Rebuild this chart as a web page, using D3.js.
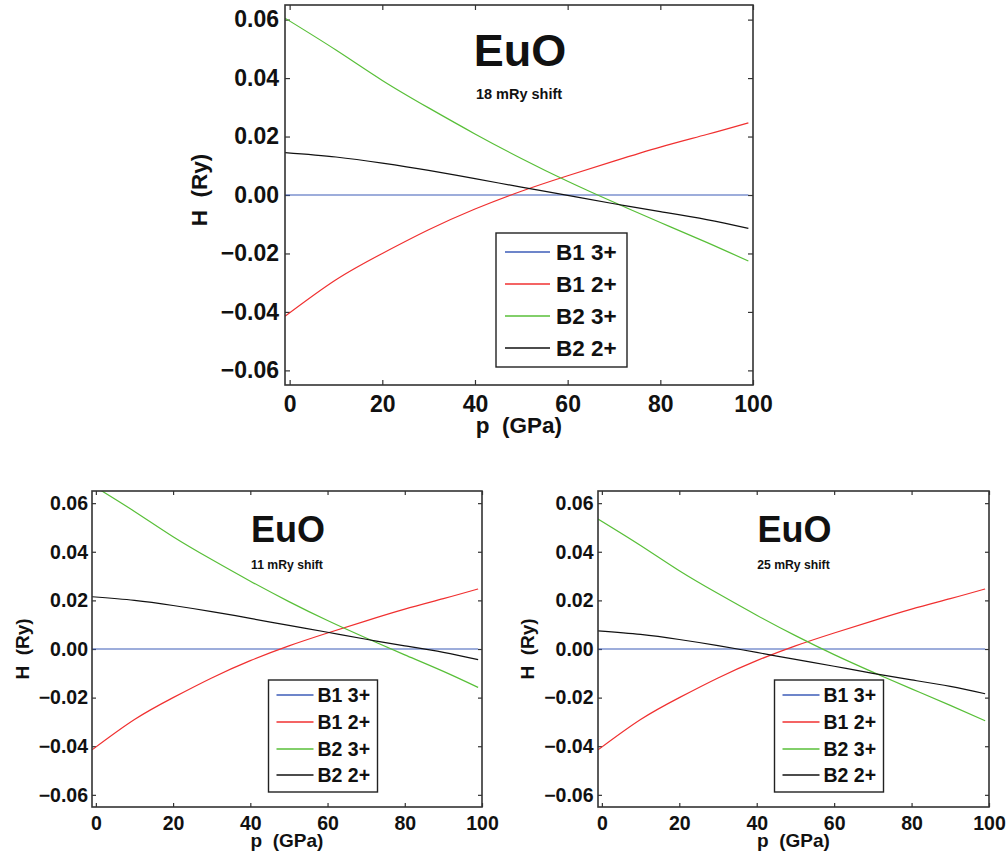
<!DOCTYPE html>
<html>
<head>
<meta charset="utf-8">
<script src="https://cdn.jsdelivr.net/npm/d3@7"></script>
<style>
  body { margin: 0; background: #fff; }
  text { font-family: "Liberation Sans", Arial, Helvetica, sans-serif; font-weight: bold; fill: #111; }
</style>
</head>
<body>
<script>
// pressure grid (GPa) and enthalpy differences (Ry)
const pressure = [-1, 10, 20, 30, 40, 50, 60, 70, 80, 90, 99];
const b1_3plus = [0, 0, 0, 0, 0, 0, 0, 0, 0, 0, 0];
const b1_2plus = [-0.0415, -0.029, -0.020, -0.0119, -0.0048, 0.0013, 0.0066, 0.0116, 0.0164, 0.0207, 0.0247];

const b2_3plus_18 = [0.0605, 0.0496, 0.0392, 0.0298, 0.0209, 0.0125, 0.0047, -0.0025, -0.0094, -0.0162, -0.0226];
const b2_2plus_18 = [0.0145, 0.0130, 0.0109, 0.0084, 0.0056, 0.0027, -0.0001, -0.0030, -0.0057, -0.0084, -0.0114];

const b2_3plus_11 = [0.0675, 0.0566, 0.0462, 0.0368, 0.0279, 0.0195, 0.0117, 0.0045, -0.0024, -0.0092, -0.0158];
const b2_2plus_11 = [0.0215, 0.0200, 0.0179, 0.0154, 0.0126, 0.0097, 0.0069, 0.0040, 0.0013, -0.0014, -0.0044];

const b2_3plus_25 = [0.0535, 0.0426, 0.0322, 0.0228, 0.0139, 0.0055, -0.0023, -0.0095, -0.0164, -0.0232, -0.0295];
const b2_2plus_25 = [0.0075, 0.0060, 0.0039, 0.0014, -0.0014, -0.0043, -0.0071, -0.0100, -0.0127, -0.0154, -0.0184];

const seriesNames = ["B1 3+", "B1 2+", "B2 3+", "B2 2+"];
const seriesColors = ["#3d5db8", "#f03030", "#58bf38", "#111111"];
const xTicks = [0, 20, 40, 60, 80, 100];
const yTicks = [-0.06, -0.04, -0.02, 0, 0.02, 0.04, 0.06];

const svg = d3.select("body").append("svg")
  .attr("width", 1006)
  .attr("height", 856);

const fmtY = d3.format(".2f");

function drawPanel(p) {
  const x = d3.scaleLinear().domain([-1, 100]).range([p.left, p.right]);
  const y = d3.scaleLinear().domain([-0.065, 0.065]).range([p.bottom, p.top]);
  const g = svg.append("g");

  g.append("clipPath").attr("id", p.id)
    .append("rect")
    .attr("x", p.left).attr("y", p.top)
    .attr("width", p.right - p.left).attr("height", p.bottom - p.top);

  // axes, ticks pointing inward on all four sides
  const bottom = g.append("g").attr("transform", `translate(0,${p.bottom})`)
    .call(d3.axisBottom(x).tickValues(xTicks).tickSizeInner(-p.tick).tickSizeOuter(0).tickPadding(p.xPad));
  const top = g.append("g").attr("transform", `translate(0,${p.top})`)
    .call(d3.axisTop(x).tickValues(xTicks).tickSizeInner(-p.tick).tickSizeOuter(0).tickFormat(""));
  const left = g.append("g").attr("transform", `translate(${p.left},0)`)
    .call(d3.axisLeft(y).tickValues(yTicks).tickSizeInner(-p.tick).tickSizeOuter(0).tickPadding(p.yPad).tickFormat(fmtY));
  const right = g.append("g").attr("transform", `translate(${p.right},0)`)
    .call(d3.axisRight(y).tickValues(yTicks).tickSizeInner(-p.tick).tickSizeOuter(0).tickFormat(""));

  [bottom, top, left, right].forEach(a => {
    a.select(".domain").remove();
    a.selectAll(".tick line").attr("stroke", "#333").attr("stroke-width", 1.2);
    a.selectAll("text").attr("font-size", p.tickFont).attr("fill", "#111")
      .attr("font-family", null);
  });

  const series = [b1_3plus, b1_2plus, p.b2_3, p.b2_2];
  const line = d3.line()
    .x((d, i) => x(pressure[i]))
    .y(d => y(d))
    .curve(d3.curveNatural);

  const lines = g.append("g").attr("clip-path", `url(#${p.id})`);
  series.forEach((s, k) => {
    lines.append("path")
      .datum(s)
      .attr("d", line)
      .attr("fill", "none")
      .attr("stroke", seriesColors[k])
      .attr("stroke-width", 1.2);
  });

  g.append("rect")
    .attr("x", p.left).attr("y", p.top)
    .attr("width", p.right - p.left).attr("height", p.bottom - p.top)
    .attr("fill", "none").attr("stroke", "#333").attr("stroke-width", 1.6);

  const cx = (p.left + p.right) / 2;
  g.append("text").attr("x", cx + p.titleDx).attr("y", p.titleY)
    .attr("text-anchor", "middle").attr("font-size", p.titleFont).text("EuO");
  g.append("text").attr("x", cx + p.titleDx - 1).attr("y", p.subY)
    .attr("text-anchor", "middle").attr("font-size", p.subFont).text(p.shift);

  g.append("text").attr("x", cx).attr("y", p.xLabelY)
    .attr("text-anchor", "middle").attr("font-size", p.labelFont)
    .style("white-space", "pre").text("p  (GPa)");
  g.append("text")
    .attr("transform", `translate(${p.yLabelX},${p.yLabelY}) rotate(-90)`)
    .attr("text-anchor", "middle").attr("font-size", p.labelFont)
    .style("white-space", "pre").text("H  (Ry)");

  // legend
  const L = p.legend;
  g.append("rect")
    .attr("x", L.x).attr("y", L.y).attr("width", L.w).attr("height", L.h)
    .attr("fill", "#fff").attr("stroke", "#222").attr("stroke-width", 1.4);
  seriesNames.forEach((name, k) => {
    const ry = Math.round(L.row0 + k * L.rowStep);
    g.append("line")
      .attr("x1", L.x + L.line0).attr("x2", L.x + L.line1)
      .attr("y1", ry).attr("y2", ry)
      .attr("stroke", seriesColors[k]).attr("stroke-width", 1.6);
    g.append("text")
      .attr("x", L.x + L.text0).attr("y", ry).attr("dy", "0.36em")
      .attr("font-size", L.font).text(name);
  });
}

drawPanel({
  id: "clipTop", left: 285, right: 753, top: 5, bottom: 385,
  tick: 5, xPad: 11, yPad: 6, tickFont: 23,
  titleFont: 45, titleY: 66, titleDx: 1, subFont: 14.5, subY: 99, shift: "18 mRy shift",
  labelFont: 22.5, xLabelY: 433, yLabelX: 207, yLabelY: 190,
  b2_3: b2_3plus_18, b2_2: b2_2plus_18,
  legend: { x: 496, y: 233, w: 131, h: 134, line0: 9, line1: 54, text0: 60, row0: 251.5, rowStep: 32, font: 22.5 }
});

drawPanel({
  id: "clipBL", left: 92, right: 482, top: 491, bottom: 807,
  tick: 4, xPad: 9, yPad: 4, tickFont: 19.5,
  titleFont: 36, titleY: 541.5, titleDx: 1, subFont: 12.2, subY: 569, shift: "11 mRy shift",
  labelFont: 19, xLabelY: 847, yLabelX: 28.5, yLabelY: 649,
  b2_3: b2_3plus_11, b2_2: b2_2plus_11,
  legend: { x: 268.5, y: 680, w: 109, h: 112, line0: 8, line1: 45, text0: 49, row0: 695, rowStep: 26.8, font: 19.5 }
});

drawPanel({
  id: "clipBR", left: 598, right: 989, top: 491, bottom: 807,
  tick: 4, xPad: 9, yPad: 4.5, tickFont: 19.5,
  titleFont: 36, titleY: 541.5, titleDx: 1, subFont: 12.2, subY: 569, shift: "25 mRy shift",
  labelFont: 19, xLabelY: 847, yLabelX: 534, yLabelY: 649,
  b2_3: b2_3plus_25, b2_2: b2_2plus_25,
  legend: { x: 774.5, y: 680, w: 109, h: 112, line0: 8, line1: 45, text0: 49, row0: 695, rowStep: 26.8, font: 19.5 }
});
</script>
</body>
</html>
